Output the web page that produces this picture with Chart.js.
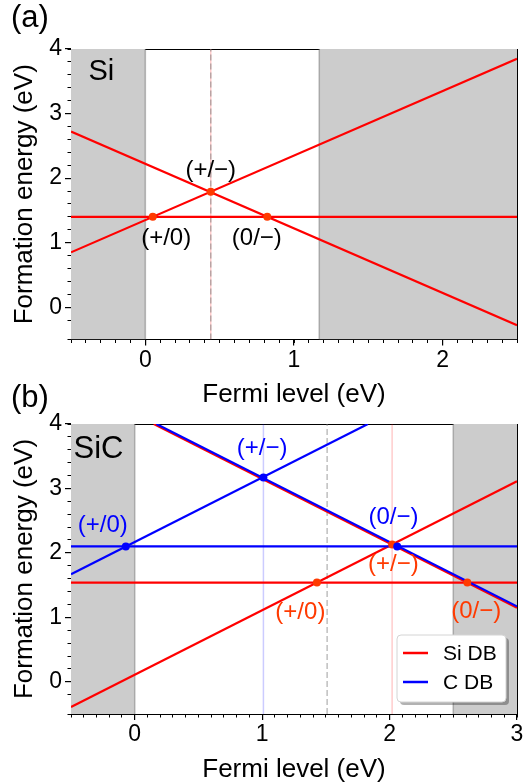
<!DOCTYPE html>
<html>
<head>
<meta charset="utf-8">
<script src="https://cdn.jsdelivr.net/npm/chart.js@4/dist/chart.umd.min.js"></script>
<style>
  html, body { margin: 0; padding: 0; background: #fff; }
  #wrap { position: relative; width: 532px; height: 783px; overflow: hidden; }
  canvas { position: absolute; left: 0; }
</style>
</head>
<body>
<div id="wrap">
  <canvas id="chartA" width="532" height="408" style="top:0"></canvas>
  <canvas id="chartB" width="532" height="403" style="top:380px"></canvas>
</div>
<script>
// ===== Data: (a) Si =====
const siRange = [-0.5, 2.5];
const siGap = 1.17;
const siPlusY = [0.85, 3.85];
const siNeutralY = [1.40, 1.40];
const siMinusY = [2.72, -0.28];
const siLevelX = [0.05, 0.44, 0.82];
const siLevelY = [1.40, 1.79, 1.40];
const siMarkX = 0.44;
const siLabelText = ['(+/0)', '(+/\u2212)', '(0/\u2212)'];
const siLabelX = [0.14, 0.44, 0.75];
const siLabelY = [1.07, 2.12, 1.07];

// ===== Data: (b) SiC =====
const sicRange = [-0.5, 3];
const sicGap = 2.5;
const sicMidX = 1.51;
const sicSiPlusX = [-0.5, 3];
const sicSiPlusY = [-0.39, 3.11];
const sicSiNeutralY = [1.54, 1.54];
const sicSiMinusX = [0.15, 3];
const sicSiMinusY = [4.0, 1.15];
const sicCPlusX = [-0.5, 1.83];
const sicCPlusY = [1.67, 4.0];
const sicCNeutralY = [2.10, 2.10];
const sicCMinusX = [0.17, 3];
const sicCMinusY = [4.0, 1.17];
const sicSiLevelX = [1.43, 2.02, 2.61];
const sicSiLevelY = [1.54, 2.13, 1.54];
const sicCLevelX = [-0.07, 1.01, 2.06];
const sicCLevelY = [2.10, 3.17, 2.10];
const sicSiLabelText = ['(+/0)', '(+/\u2212)', '(0/\u2212)'];
const sicSiLabelX = [1.30, 2.03, 2.68];
const sicSiLabelY = [1.08, 1.82, 1.09];
const sicCLabelText = ['(+/0)', '(+/\u2212)', '(0/\u2212)'];
const sicCLabelX = [-0.25, 1.00, 2.03];
const sicCLabelY = [2.43, 3.62, 2.55];

// ===== Axes =====
const yRange = [-0.5, 4];
const yTicks = [0, 1, 2, 3, 4];
const siXTicks = [0, 1, 2];
const sicXTicks = [0, 1, 2, 3];

const RED = '#ff0000';
const BLUE = '#0000ff';
const DOT_RED = '#ff3a00';
const FONT = '"Liberation Sans", Arial, sans-serif';

const pts = (xs, ys) => xs.map((x, i) => ({x: x, y: ys[i]}));

const line = (xs, ys, color, order, label, legendIndex) => ({
    label: label || '',
    legendIndex: label ? legendIndex : -1,
    data: pts(xs, ys),
    borderColor: color,
    backgroundColor: color,
    borderWidth: 2.2,
    pointRadius: 0,
    fill: false,
    order: order
});

const dots = (xs, ys, color, order) => ({
    data: pts(xs, ys),
    showLine: false,
    pointRadius: 4,
    pointBorderWidth: 0,
    pointBackgroundColor: color,
    borderColor: color,
    order: order
});

const vline = (x, color, width, dash, order) => ({
    data: [{x: x, y: yRange[0]}, {x: x, y: yRange[1]}],
    borderColor: color,
    borderWidth: width,
    borderDash: dash || [],
    pointRadius: 0,
    fill: false,
    order: order
});

const band = (x0, x1) => ({
    data: [{x: x0, y: yRange[1]}, {x: x1, y: yRange[1]}],
    borderWidth: 0,
    borderColor: 'rgba(0,0,0,0)',
    backgroundColor: '#cccccc',
    pointRadius: 0,
    fill: 'start',
    order: 20
});

// ===== Scales =====
const makeScales = (xr, xTicks, xHeight) => {
    const tickFont = {family: FONT, size: 23};
    const titleFont = {family: FONT, size: 26, lineHeight: 1};
    const border = {display: true, color: '#000', width: 1};
    const major = {display: true, drawOnChartArea: false, drawTicks: true, tickLength: 6, tickColor: '#000', tickWidth: 1.2, color: '#000', lineWidth: 1.2};
    const minor = {display: true, drawOnChartArea: false, drawTicks: true, tickLength: 3.5, tickColor: '#000', tickWidth: 1, color: '#000', lineWidth: 1};
    return {
        x: {
            type: 'linear', position: 'bottom', min: xr[0], max: xr[1], weight: 0,
            afterBuildTicks: s => { s.ticks = xTicks.map(v => ({value: v})); },
            afterFit: s => { s.height = xHeight; },
            grid: major,
            border: border,
            ticks: {font: tickFont, color: '#000', padding: 1, maxRotation: 0, autoSkip: false},
            title: {display: true, text: 'Fermi level (eV)', font: titleFont, color: '#000', padding: {top: 0, bottom: 0}}
        },
        xMinor: {
            type: 'linear', position: 'bottom', min: xr[0], max: xr[1], weight: -1,
            afterFit: s => { s.height = 0; },
            grid: minor,
            border: {display: false},
            ticks: {display: false, stepSize: 0.1, autoSkip: false}
        },
        xTop: {
            type: 'linear', position: 'top', min: xr[0], max: xr[1],
            afterFit: s => { s.height = 0; },
            grid: {display: false}, border: border, ticks: {display: false}
        },
        y: {
            type: 'linear', position: 'left', min: yRange[0], max: yRange[1], weight: 0,
            afterBuildTicks: s => { s.ticks = yTicks.map(v => ({value: v})); },
            afterFit: s => { s.width = 71; },
            grid: major,
            border: border,
            ticks: {font: tickFont, color: '#000', padding: 3, autoSkip: false},
            title: {display: true, text: 'Formation energy (eV)', font: titleFont, color: '#000', padding: {top: 11.5, bottom: 0}}
        },
        yMinor: {
            type: 'linear', position: 'left', min: yRange[0], max: yRange[1], weight: -1,
            afterFit: s => { s.width = 0; },
            grid: minor,
            border: {display: false},
            ticks: {display: false, stepSize: 0.2, autoSkip: false}
        },
        yRight: {
            type: 'linear', position: 'right', min: yRange[0], max: yRange[1],
            afterFit: s => { s.width = 0; },
            grid: {display: false}, border: border, ticks: {display: false}
        }
    };
};

// ===== Text plugin (panel letter, material, transition labels, legend) =====
const textPlugin = (cfg) => ({
    id: 'panelText',
    afterDatasetsDraw(chart) {
        const {ctx, chartArea} = chart;
        const xs = chart.scales.x, ys = chart.scales.y;
        ctx.save();
        ctx.fillStyle = '#000';
        ctx.textAlign = 'left';
        ctx.textBaseline = 'alphabetic';
        ctx.font = '31px ' + FONT;
        ctx.fillText(cfg.panel, 11, 27);
        ctx.font = cfg.nameSize + 'px ' + FONT;
        ctx.fillText(cfg.name, chartArea.left + cfg.nameDx, chartArea.top + cfg.nameDy);

        ctx.font = '24px ' + FONT;
        ctx.textAlign = 'center';
        ctx.textBaseline = 'middle';
        cfg.labels.forEach(g => {
            ctx.fillStyle = g.color;
            g.text.forEach((t, i) => {
                ctx.fillText(t, xs.getPixelForValue(g.x[i]), ys.getPixelForValue(g.y[i]));
            });
        });

        if (cfg.legend) {
            const items = chart.data.datasets.filter(d => d.legendIndex >= 0)
                .sort((a, b) => a.legendIndex - b.legendIndex);
            const bw = 109, bh = 67;
            const bx = chartArea.right - 120, by = chartArea.bottom - 79;
            ctx.fillStyle = 'rgba(0,0,0,0.3)';
            ctx.beginPath();
            ctx.roundRect(bx + 3, by + 3, bw, bh, 4);
            ctx.fill();
            ctx.fillStyle = '#fff';
            ctx.strokeStyle = '#d4d4d4';
            ctx.lineWidth = 1;
            ctx.beginPath();
            ctx.roundRect(bx, by, bw, bh, 4);
            ctx.fill();
            ctx.stroke();
            ctx.font = '21px ' + FONT;
            ctx.textAlign = 'left';
            ctx.textBaseline = 'middle';
            items.forEach((d, i) => {
                const yy = by + 18 + i * 29;
                ctx.strokeStyle = d.borderColor;
                ctx.lineWidth = 2.5;
                ctx.beginPath();
                ctx.moveTo(bx + 6, yy);
                ctx.lineTo(bx + 31, yy);
                ctx.stroke();
                ctx.fillStyle = '#000';
                ctx.fillText(d.label, bx + 46, yy + 1);
            });
        }
        ctx.restore();
    }
});

const baseOptions = (scales, top) => ({
    responsive: false,
    animation: false,
    events: [],
    layout: {padding: {top: top, right: 15, left: 0, bottom: 0}},
    plugins: {legend: {display: false}, tooltip: {enabled: false}},
    scales: scales
});

// ===== Chart (a) =====
new Chart(document.getElementById('chartA'), {
    type: 'line',
    data: {
        datasets: [
            dots(siLevelX, siLevelY, DOT_RED, 1),
            line(siRange, siPlusY, RED, 5),
            line(siRange, siNeutralY, RED, 5),
            line(siRange, siMinusY, RED, 5),
            vline(siMarkX, 'rgba(128,128,128,0.55)', 1.5, [6, 3], 8),
            vline(siMarkX, 'rgba(255,0,0,0.2)', 1.5, [], 9),
            vline(0, 'rgba(110,110,110,0.5)', 1.5, [], 10),
            vline(siGap, 'rgba(110,110,110,0.5)', 1.5, [], 10),
            band(siRange[0], 0),
            band(siGap, siRange[1])
        ]
    },
    options: baseOptions(makeScales(siRange, siXTicks, 68.5), 49),
    plugins: [textPlugin({
        panel: '(a)', name: 'Si', nameSize: 29, nameDx: 17.5, nameDy: 31,
        labels: [{color: '#000', text: siLabelText, x: siLabelX, y: siLabelY}],
        legend: false
    })]
});

// ===== Chart (b) =====
new Chart(document.getElementById('chartB'), {
    type: 'line',
    data: {
        datasets: [
            dots(sicCLevelX, sicCLevelY, BLUE, 1),
            dots(sicSiLevelX, sicSiLevelY, DOT_RED, 2),
            line(sicCPlusX, sicCPlusY, BLUE, 3),
            line(sicRange, sicCNeutralY, BLUE, 3, 'C DB', 1),
            line(sicCMinusX, sicCMinusY, BLUE, 3),
            line(sicSiPlusX, sicSiPlusY, RED, 4),
            line(sicRange, sicSiNeutralY, RED, 4, 'Si DB', 0),
            line(sicSiMinusX, sicSiMinusY, RED, 4),
            vline(sicMidX, 'rgba(128,128,128,0.5)', 1.5, [6, 3], 8),
            vline(sicCLevelX[1], 'rgba(0,0,255,0.2)', 1.5, [], 9),
            vline(sicSiLevelX[1], 'rgba(255,0,0,0.2)', 1.5, [], 9),
            vline(0, 'rgba(110,110,110,0.5)', 1.5, [], 10),
            vline(sicGap, 'rgba(110,110,110,0.5)', 1.5, [], 10),
            band(sicRange[0], 0),
            band(sicGap, sicRange[1])
        ]
    },
    options: baseOptions(makeScales(sicRange, sicXTicks, 69), 44),
    plugins: [textPlugin({
        panel: '(b)', name: 'SiC', nameSize: 31, nameDx: 2.5, nameDy: 34,
        labels: [
            {color: BLUE, text: sicCLabelText, x: sicCLabelX, y: sicCLabelY},
            {color: DOT_RED, text: sicSiLabelText, x: sicSiLabelX, y: sicSiLabelY}
        ],
        legend: true
    })]
});
</script>
</body>
</html>
